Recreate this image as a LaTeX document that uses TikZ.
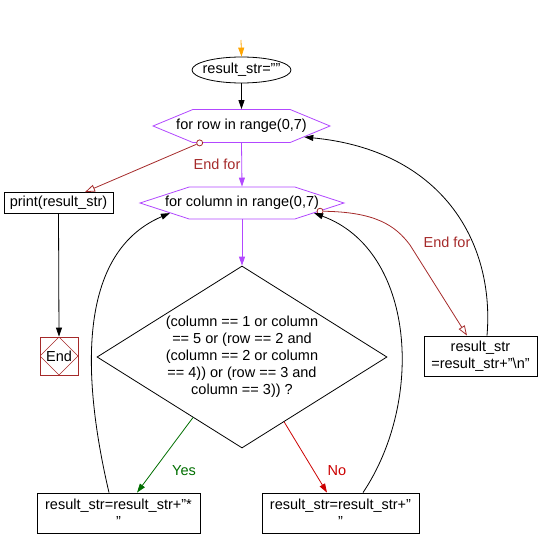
\documentclass[tikz,border=0pt]{standalone}
\usepackage{fontspec}
\setmainfont{Liberation Sans}
\usepackage{tikz}
\usetikzlibrary{shapes.geometric,shapes.symbols,arrows.meta}

\definecolor{hexpurple}{RGB}{178,72,255}
\definecolor{endred}{RGB}{165,42,42}
\definecolor{yesgreen}{RGB}{0,110,0}
\definecolor{nored}{RGB}{204,0,0}
\definecolor{startorange}{RGB}{255,165,0}

\tikzset{
  every node/.style={font=\fontsize{14.5}{17}\selectfont, inner sep=0pt},
  flow/.style={line width=0.8pt},
  tip/.style={-{Triangle[length=9pt,width=6pt]}},
  opentip/.style={-{Triangle[open,length=10pt,width=7pt]}},
  hexa/.style={signal, signal to=east and west, draw=hexpurple, line width=0.8pt, fill=white},
  box/.style={rectangle, draw, line width=0.8pt, align=center, fill=white},
  dot/.style={circle, draw=endred, fill=white, line width=0.8pt, minimum size=6pt}
}

\begin{document}
\begin{tikzpicture}[x=1pt,y=-1pt]
\useasboundingbox (0,0) rectangle (538,548);

%\draw[step=50,gray,very thin] (0,0) grid (538,548);

% start
\coordinate (top) at (241,40);
\node[ellipse, draw, line width=0.8pt, minimum width=99, minimum height=26,
  label=center:{result\_str=""}] (init) at (241.5,70) {};

% loops
\node[hexa, minimum width=177, minimum height=33, signal pointer angle=45,
  label=center:{for row in range(0,7)}] (row) at (241.5,126) {};
\node[hexa, minimum width=204, minimum height=32, signal pointer angle=36,
  label=center:{for column in range(0,7)}] (col) at (242,203) {};

% test
\node[diamond, draw, line width=0.8pt, aspect=1.6, minimum width=290, minimum height=182, align=center] (test) at (242,357)
  {(column == 1 or column\\== 5 or (row == 2 and\\(column == 2 or column\\== 4)) or (row == 3 and\\column == 3)) ?};

\node[box, minimum width=163, minimum height=40] (star) at (118.5,513) {result\_str=result\_str+"*\\"};
\node[box, minimum width=157, minimum height=40] (blank) at (340.5,513) {result\_str=result\_str+"\\"};
\node[box, minimum width=113, minimum height=40] (newline) at (480.5,356) {result\_str\\=result\_str+"\textbackslash n"};

% output
\node[box, minimum width=109, minimum height=21] (print) at (58.5,203) {print(result\_str)};
\node[rectangle, draw=endred, line width=0.8pt, minimum size=38,
  path picture={\draw[endred, line width=0.6pt] (path picture bounding box.north) -- (path picture bounding box.east) -- (path picture bounding box.south) -- (path picture bounding box.west) -- cycle;}] (end) at (59,356) {End};

\node[dot] (rowend) at (row.202) {};
\node[dot] (colend) at (col.354) {};

% arrows
\draw[flow, tip, startorange] (top) -- (init.north);
\draw[flow, tip] (init.south) -- (row.north);
\draw[flow, tip, hexpurple] (row.south) -- (col.north);
\draw[flow, tip, hexpurple] (col.south) -- (test.north);
\draw[flow, tip, yesgreen] (test.231) -- ([xshift=18.5pt]star.north);
\draw[flow, tip, nored] (test.303) -- ([xshift=-13.5pt]blank.north);
\draw[flow, tip] ([xshift=-9.5pt]star.north) .. controls (85,390) and (72,255) .. (col.188);
\draw[flow, tip] ([xshift=22.5pt]blank.north) .. controls (425,400) and (415,250) .. (col.352);
\draw[flow, tip] ([xshift=6.5pt]newline.north) .. controls (495,240) and (440,150) .. (row.350);
\draw[flow, opentip, endred] (rowend) -- ([xshift=26.5pt]print.north);
\draw[flow, opentip, endred] (colend) .. controls (375,212) and (395,225) .. (410,245) -- ([xshift=-13.5pt]newline.north);
\draw[flow, tip] (print.south) -- (end.north);

% labels
\node[endred] (rowlbl) at (217,164) {End for};
\node[endred] (collbl) at (447,242) {End for};
\node[yesgreen] (yeslbl) at (184,471) {Yes};
\node[nored] (nolbl) at (337,471) {No};

\end{tikzpicture}
\end{document}
